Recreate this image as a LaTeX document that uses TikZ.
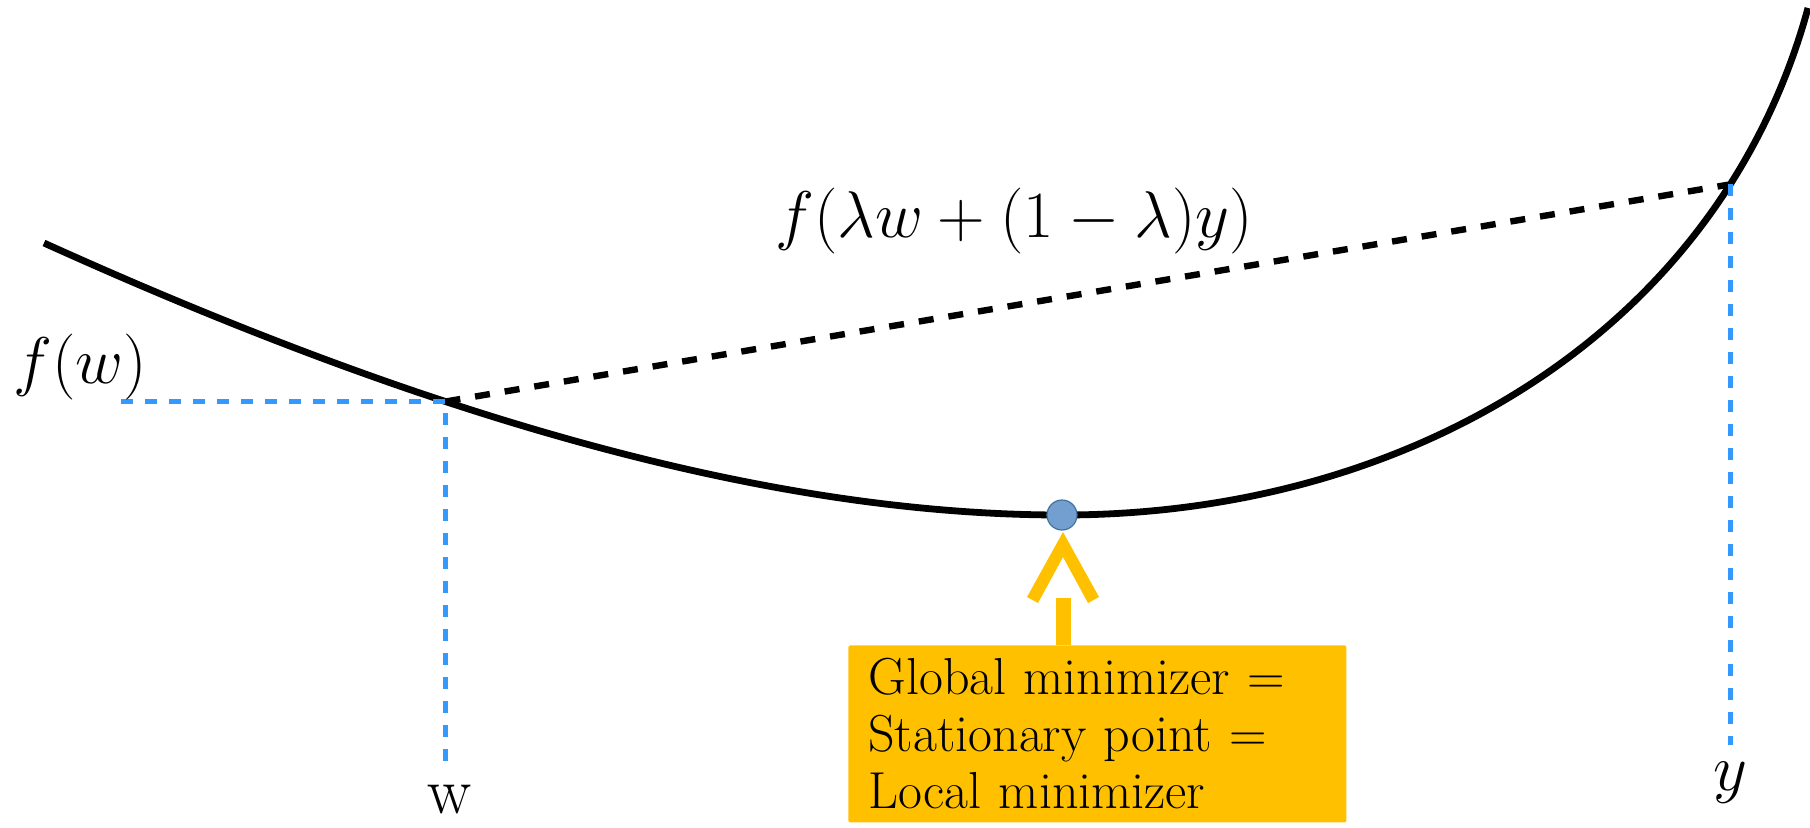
\RequirePackage{fix-cm}
\documentclass[tikz,border=0pt]{standalone}
\usetikzlibrary{calc}
\definecolor{bluedash}{RGB}{51,153,255}
\definecolor{gold}{RGB}{255,192,0}
\definecolor{dotfill}{RGB}{114,159,207}
\definecolor{dotedge}{RGB}{65,113,156}
\tikzset{
  curveline/.style={line width=3.4pt, black},
  chord/.style={line width=3.2pt, black, dash pattern=on 7.5pt off 7.5pt},
  guide/.style={line width=2.6pt, bluedash, dash pattern=on 6pt off 6pt},
  biglabel/.style={inner sep=0pt, font=\fontsize{33}{40}\selectfont},
  infobox/.style={fill=gold, rounded corners=1pt, align=left, text width=229pt,
     inner xsep=10pt, inner ysep=0pt, minimum height=88.5pt,
     font=\fontsize{26}{28.5}\selectfont},
  mindot/.style={circle, fill=dotfill, draw=dotedge, line width=0.6pt, minimum size=15pt, inner sep=0pt}
}
\begin{document}
\begin{tikzpicture}[x=0.5pt,y=-0.5pt]
\useasboundingbox (0,0) rectangle (1810,827);
\coordinate (M) at (1062,515);
\coordinate (hl) at (121,0);
\coordinate (lowW) at (0,762);
\coordinate (lowY) at (0,745);
% convex curve
\draw[curveline] (44,243) .. controls (400,404) and (750,515) .. coordinate[pos=0.38] (W) (M)
  .. controls (1412,515) and (1720,330) .. coordinate[pos=0.8] (Y) (1808,8);
% chord
\draw[chord] (W) -- (Y);
% guides
\draw[guide] (hl |- W) -- (W) -- (W |- lowW);
\draw[guide] (Y) -- (Y |- lowY);
% minimizer
\node[mindot] (min) at (M) {};
% box
\node[infobox, anchor=north west] (box) at (848,645)
  {Global minimizer =\\Stationary point =\\Local minimizer};
% arrow from box to minimizer
\fill[gold] ($(min)+(-6,83)$) rectangle ($(min |- box.north)+(9,0)$);
\fill[gold] ($(min)+(1,17)$) -- ($(min)+(37,82)$) -- ($(min)+(26,88)$)
  -- ($(min)+(1,42)$) -- ($(min)+(-24,88)$) -- ($(min)+(-35,82)$) -- cycle;
% labels
\node[biglabel, anchor=base west] (fw) at (13,383) {$f(w)$};
\node[biglabel, anchor=base] (fmix) at (1014,237) {$f(\lambda w+(1-\lambda)y)$};
\node[biglabel, anchor=base] (wl) at (450,813) {w};
\node[biglabel, anchor=base] (yl) at (1730,790) {$y$};
\end{tikzpicture}
\end{document}
